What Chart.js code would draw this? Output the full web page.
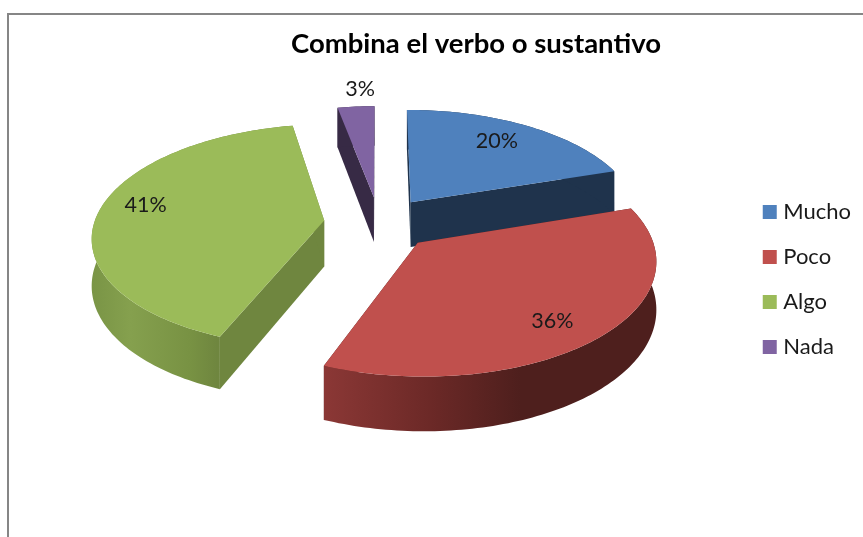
<!DOCTYPE html>
<html>
<head>
    <style>
        body {
            margin: 0;
            background: #fff;
            overflow: hidden;
        }

        #frame {
            position: absolute;
            left: 7px;
            top: 13px;
            right: 0;
            bottom: 0;
            border-left: 2px solid #868686;
            border-top: 2px solid #868686;
        }

        #pie {
            position: absolute;
            left: 0;
            top: 0;
        }
    </style>
    <script src="https://cdn.jsdelivr.net/npm/chart.js"></script>
</head>
<body>
    <div id="frame"></div>
    <canvas id="pie" width="863" height="537"></canvas>

    <script>
        const categories = ['Mucho', 'Poco', 'Algo', 'Nada'];
        const values = [20, 36, 41, 3];
        const valueLabels = ['20%', '36%', '41%', '3%'];
        const topColors = ['#4f81bd', '#c0504d', '#9bbb59', '#8064a2'];
        const wallColors = ['#1f334c', '#4e1f1d', '#6f863f', '#372a45'];

        // rim shading, left to right, only the slices where the rim shows
        const rimStops = {
            1: [[320, '#8c3836'], [430, '#6c2927'], [520, '#4e1f1d'], [657, '#4e1f1d']],
            2: [[93, '#7a9546'], [130, '#85a04e'], [190, '#789243'], [217, '#6f863f']]
        };

        // fake 3D view of the pie
        const view = { cx: 379, cy: 223, rx: 230, ry: 110, persp: 0.135, depth: 46, explode: 0.24 };
        const labelSpots = [
            { r: 0.75, dx: -3, dy: -2 },
            { r: 0.8, dx: -9, dy: 5 },
            { r: 0.77, dx: -5, dy: -8 },
            { r: 1.25, dx: 8, dy: 2 }
        ];

        function project(u, v) {
            const w = 1 / (1 - view.persp * v);
            return { x: view.cx + view.rx * u * w, y: view.cy + view.ry * v * w, d: view.depth * w, v: v };
        }

        function slicePoints(arc) {
            const mid = (arc.startAngle + arc.endAngle) / 2;
            const ox = Math.cos(mid) * view.explode;
            const oy = Math.sin(mid) * view.explode;
            const pts = [project(ox, oy)];
            const steps = Math.ceil((arc.endAngle - arc.startAngle) / 0.02);
            for (let i = 0; i <= steps; i++) {
                const a = arc.startAngle + (arc.endAngle - arc.startAngle) * i / steps;
                pts.push(project(ox + Math.cos(a), oy + Math.sin(a)));
            }
            return pts;
        }

        function fillWall(ctx, line, style) {
            ctx.beginPath();
            line.forEach((p, k) => k ? ctx.lineTo(p.x, p.y) : ctx.moveTo(p.x, p.y));
            line.slice().reverse().forEach(p => ctx.lineTo(p.x, p.y + p.d));
            ctx.closePath();
            ctx.fillStyle = style;
            ctx.fill();
        }

        const pie3d = {
            id: 'pie3d',
            beforeDatasetsDraw(chart) {
                const ctx = chart.ctx;
                const arcs = chart.getDatasetMeta(0).data;
                const order = arcs.map((arc, i) => i).sort((a, b) => {
                    const ma = (arcs[a].startAngle + arcs[a].endAngle) / 2;
                    const mb = (arcs[b].startAngle + arcs[b].endAngle) / 2;
                    return Math.sin(ma) - Math.sin(mb);
                });

                order.forEach(i => {
                    const pts = slicePoints(arcs[i]);
                    let rim = wallColors[i];
                    if (rimStops[i]) {
                        const stops = rimStops[i];
                        rim = ctx.createLinearGradient(stops[0][0], 0, stops[stops.length - 1][0], 0);
                        const span = stops[stops.length - 1][0] - stops[0][0];
                        stops.forEach(s => rim.addColorStop((s[0] - stops[0][0]) / span, s[1]));
                    }

                    // the two cut walls, then the rim as one piece so no seams show
                    fillWall(ctx, [pts[0], pts[1]], wallColors[i]);
                    fillWall(ctx, [pts[pts.length - 1], pts[0]], wallColors[i]);
                    fillWall(ctx, pts.slice(1), rim);

                    // top face
                    ctx.beginPath();
                    pts.forEach((p, k) => k ? ctx.lineTo(p.x, p.y) : ctx.moveTo(p.x, p.y));
                    ctx.closePath();
                    ctx.fillStyle = topColors[i];
                    ctx.fill();
                });

                ctx.font = '21.5px Lato';
                ctx.textAlign = 'center';
                ctx.textBaseline = 'middle';
                ctx.fillStyle = '#1a1a1a';
                arcs.forEach((arc, i) => {
                    const mid = (arc.startAngle + arc.endAngle) / 2;
                    const spot = labelSpots[i];
                    const p = project(
                        Math.cos(mid) * (view.explode + spot.r),
                        Math.sin(mid) * (view.explode + spot.r)
                    );
                    ctx.fillText(valueLabels[i], p.x + spot.dx, p.y + spot.dy);
                });
                return false;
            }
        };

        new Chart(document.getElementById('pie'), {
            type: 'pie',
            data: {
                labels: categories,
                datasets: [{
                    data: values,
                    backgroundColor: topColors,
                    borderWidth: 0
                }]
            },
            options: {
                responsive: false,
                animation: false,
                layout: { padding: { left: 91, right: 2, top: 28, bottom: 6 } },
                plugins: {
                    tooltip: { enabled: false },
                    title: {
                        display: true,
                        text: 'Combina el verbo o sustantivo',
                        color: '#000',
                        font: { family: 'Lato', size: 27.5, weight: 'bold' },
                        padding: { top: 0, bottom: 0 }
                    },
                    legend: {
                        position: 'right',
                        align: 'center',
                        labels: {
                            color: '#1a1a1a',
                            font: { family: 'Lato', size: 22 },
                            usePointStyle: true,
                            pointStyle: 'rect',
                            boxWidth: 5,
                            boxHeight: 14,
                            padding: 23
                        }
                    }
                }
            },
            plugins: [pie3d]
        });
    </script>
</body>
</html>
